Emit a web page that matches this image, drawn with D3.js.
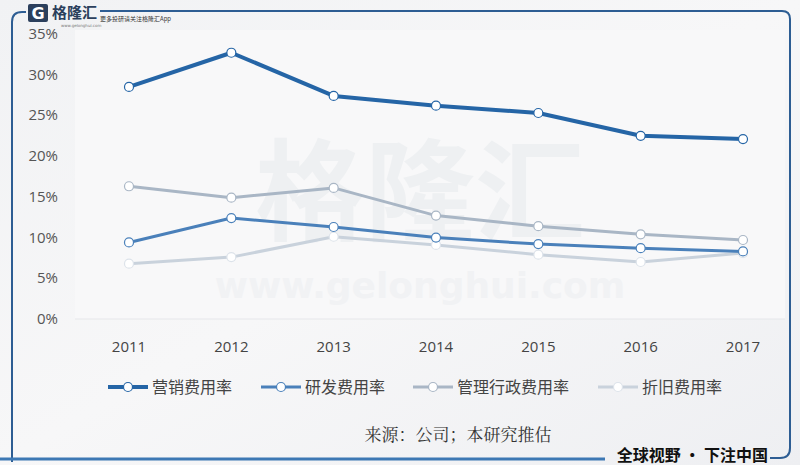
<!DOCTYPE html>
<html>
<head>
<meta charset="utf-8">
<script src="https://cdn.jsdelivr.net/npm/d3@7/dist/d3.min.js"></script>
<style>
  body { margin: 0; background: #f2f3f5; }
  svg { display: block; }
</style>
</head>
<body>
<div id="container"></div>
<script>
const years = ["2011", "2012", "2013", "2014", "2015", "2016", "2017"];
const marketing = [28.5, 32.7, 27.4, 26.2, 25.3, 22.5, 22.1];
const rnd = [9.4, 12.4, 11.3, 10.0, 9.2, 8.7, 8.3];
const admin = [16.3, 14.9, 16.1, 12.7, 11.4, 10.4, 9.7];
const depreciation = [6.8, 7.6, 10.1, 9.1, 7.9, 7.0, 8.1];
const yTicks = [0, 5, 10, 15, 20, 25, 30, 35];

const series = [
  { name: "营销费用率", values: marketing, color: "#2565a6", width: 4, marker: "#2565a6" },
  { name: "研发费用率", values: rnd, color: "#4a80ba", width: 3, marker: "#4a80ba" },
  { name: "管理行政费用率", values: admin, color: "#a9b6c5", width: 3, marker: "#a9b6c5" },
  { name: "折旧费用率", values: depreciation, color: "#c9d2dc", width: 3, marker: "#dde3ea" }
];

const width = 800;
const height = 465;

const svg = d3.select("#container")
  .append("svg")
  .attr("width", width)
  .attr("height", height);

// background
const grad = svg.append("defs").append("linearGradient")
  .attr("id", "bg").attr("x1", 0).attr("y1", 0).attr("x2", 1).attr("y2", 1);
grad.append("stop").attr("offset", "0%").attr("stop-color", "#f1f2f4");
grad.append("stop").attr("offset", "50%").attr("stop-color", "#f7f7f8");
grad.append("stop").attr("offset", "100%").attr("stop-color", "#eeeff2");
svg.append("rect").attr("width", width).attr("height", height).attr("fill", "url(#bg)");

const x = d3.scalePoint().domain(years).range([129, 743]);
const y = d3.scaleLinear().domain([0, 35]).range([319, 34]);

// plot area
svg.append("rect")
  .attr("x", 75).attr("y", 30).attr("width", 710).attr("height", 289)
  .attr("fill", "#f8f8f9");
svg.append("line")
  .attr("x1", 75).attr("x2", 785).attr("y1", y(0)).attr("y2", y(0))
  .attr("stroke", "#e6e7ea").attr("stroke-width", 1);

// watermark
svg.append("text")
  .attr("x", 420).attr("y", 232)
  .attr("text-anchor", "middle")
  .style("font-family", "Noto Sans CJK SC")
  .style("font-size", "110px")
  .style("font-weight", "bold")
  .attr("fill", "#eef0f2")
  .text("格隆汇");
svg.append("text")
  .attr("x", 420).attr("y", 298)
  .attr("text-anchor", "middle")
  .style("font-family", "DejaVu Sans")
  .style("font-size", "36px")
  .style("font-weight", "bold")
  .attr("fill", "#f1f2f4")
  .text("www.gelonghui.com");

// frame
svg.append("path")
  .attr("d", "M12,462 L12,22 Q12,12 22,12 L26,12 M100,11 L782,11 Q790,11 790,19 L790,448 Q790,458 780,458 L770,458")
  .attr("fill", "none")
  .attr("stroke", "#2d5d93")
  .attr("stroke-width", 2);
svg.append("line")
  .attr("x1", 0).attr("x2", 605).attr("y1", 459).attr("y2", 459)
  .attr("stroke", "#3d78b4").attr("stroke-width", 3);

// logo
svg.append("rect").attr("x", 28).attr("y", 4).attr("width", 20).attr("height", 18)
  .attr("fill", "#2b3f5c").attr("rx", 2);
svg.append("text").attr("x", 38).attr("y", 19).attr("text-anchor", "middle")
  .style("font-family", "DejaVu Sans").style("font-size", "16px").style("font-weight", "bold")
  .attr("fill", "#ffffff").text("G");
svg.append("text").attr("x", 52).attr("y", 18)
  .style("font-family", "Noto Sans CJK SC").style("font-size", "15px").style("font-weight", "bold")
  .attr("fill", "#2b3f5c").text("格隆汇");
svg.append("text").attr("x", 100).attr("y", 21)
  .style("font-family", "Noto Sans CJK SC").style("font-size", "6px")
  .attr("fill", "#333").text("更多投研请关注格隆汇App");
svg.append("text").attr("x", 61).attr("y", 27)
  .style("font-family", "DejaVu Sans").style("font-size", "4px")
  .attr("fill", "#777").text("www.gelonghui.com");

// y axis labels
svg.append("g")
  .selectAll("text")
  .data(yTicks)
  .join("text")
    .attr("x", 58)
    .attr("y", d => y(d) + 5)
    .attr("text-anchor", "end")
    .style("font-family", "Open Sans")
    .style("font-size", "15px")
    .attr("fill", "#555")
    .text(d => d + "%");

// x axis labels
svg.append("g")
  .selectAll("text")
  .data(years)
  .join("text")
    .attr("x", d => x(d))
    .attr("y", 352)
    .attr("text-anchor", "middle")
    .style("font-family", "Open Sans")
    .style("font-size", "15px")
    .attr("fill", "#444")
    .text(d => d);

// lines
const line = d3.line()
  .x((d, i) => x(years[i]))
  .y(d => y(d));

const drawOrder = [3, 2, 1, 0];
drawOrder.forEach(k => {
  const s = series[k];
  svg.append("path")
    .datum(s.values)
    .attr("fill", "none")
    .attr("stroke", s.color)
    .attr("stroke-width", s.width)
    .attr("stroke-linejoin", "round")
    .attr("d", line);
  svg.append("g")
    .selectAll("circle")
    .data(s.values)
    .join("circle")
      .attr("cx", (d, i) => x(years[i]))
      .attr("cy", d => y(d))
      .attr("r", 4.5)
      .attr("fill", "#ffffff")
      .attr("stroke", s.marker)
      .attr("stroke-width", 1.2);
});

// legend
const legendX = [108, 261, 413, 598];
const legend = svg.append("g")
  .selectAll("g")
  .data(series)
  .join("g")
    .attr("transform", (d, i) => `translate(${legendX[i]},387)`);
legend.append("line")
  .attr("x1", 0).attr("x2", 40).attr("y1", 0).attr("y2", 0)
  .attr("stroke", d => d.color)
  .attr("stroke-width", d => d.width);
legend.append("circle")
  .attr("cx", 20).attr("cy", 0).attr("r", 4.5)
  .attr("fill", "#ffffff")
  .attr("stroke", d => d.marker)
  .attr("stroke-width", 1.2);
legend.append("text")
  .attr("x", 44).attr("y", 6)
  .style("font-family", "Noto Sans CJK SC")
  .style("font-size", "16px")
  .attr("fill", "#444")
  .text(d => d.name);

// source
svg.append("text")
  .attr("x", 458).attr("y", 441)
  .attr("text-anchor", "middle")
  .style("font-family", "Noto Serif CJK SC, Noto Sans CJK SC")
  .style("font-size", "17px")
  .attr("fill", "#333")
  .text("来源：公司；本研究推估");

svg.append("text")
  .attr("x", 768).attr("y", 461)
  .attr("text-anchor", "end")
  .style("font-family", "Noto Sans CJK SC")
  .style("font-size", "16px")
  .style("font-weight", "bold")
  .attr("fill", "#111")
  .text("全球视野 · 下注中国");
</script>
</body>
</html>
